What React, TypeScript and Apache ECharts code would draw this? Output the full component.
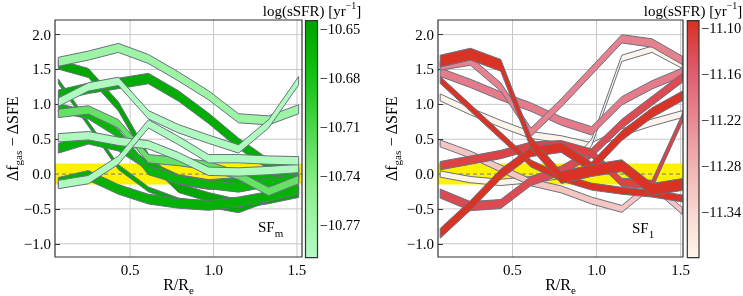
import React, { useEffect, useRef } from "react";
import * as echarts from "echarts";

// radial bins (R/Re)
const X_BINS = [0.07, 0.25, 0.43, 0.61, 0.79, 0.97, 1.15, 1.33, 1.51];

// SF_m panel: band centres, half-widths and log(sSFR)
const SFM_MID: number[][] = [
  [1.57, 1.45, 0.97, 0.22, -0.2, -0.33, -0.43, -0.36, -0.27],
  [1.33, 0.72, 0.1, -0.22, -0.38, -0.44, -0.52, -0.36, -0.2],
  [1.13, 1.23, 1.3, 1.37, 1.12, 0.8, 0.44, 0.14, 0.0],
  [0.37, 0.5, 0.4, 0.12, -0.08, -0.15, -0.12, -0.05, 0.02],
  [-0.12, -0.02, -0.22, -0.36, -0.42, -0.45, -0.4, -0.32, -0.22],
  [0.95, 0.85, 0.58, 0.05, -0.08, -0.15, -0.2, -0.12, -0.06],
  [0.87, 0.92, 0.72, 0.22, 0.18, 0.12, -0.02, -0.25, -0.08],
  [1.61, 1.7, 1.81, 1.65, 1.4, 1.13, 0.8, 0.77, 0.93],
  [1.03, 1.25, 1.33, 0.85, 0.65, 0.5, 0.36, 0.72, 1.34],
  [0.52, 0.55, 0.47, 0.42, 0.25, 0.04, 0.03, 0.05, 0.08],
  [-0.15, -0.08, 0.2, 0.72, 0.48, 0.22, 0.22, 0.2, 0.19],
];
const SFM_HALF = [0.065, 0.035, 0.075, 0.07, 0.07, 0.06, 0.06, 0.065, 0.06, 0.06, 0.06];
const SFM_SSFR = [-10.648, -10.652, -10.655, -10.66, -10.66, -10.665, -10.725, -10.765, -10.785, -10.785, -10.785];

// SF_1 panel
const SF1_MID: number[][] = [
  [1.1, 0.9, 0.72, 0.56, 0.5, 0.4, 0.6, 0.74, 0.86],
  [0.0, -0.08, -0.12, -0.08, -0.02, 0.45, 1.66, 1.79, 1.56],
  [0.44, 0.28, 0.08, -0.12, -0.22, -0.38, -0.5, -0.15, -0.53],
  [1.46, 1.3, 1.12, 0.96, 0.76, 0.62, 1.05, 1.28, 1.46],
  [1.55, 1.62, 1.25, 0.6, 1.02, 1.48, 1.94, 1.88, 1.63],
  [-0.28, -0.46, -0.43, -0.1, 0.05, 0.3, 0.72, 1.05, 1.38],
  [0.12, 0.2, 0.28, 0.4, 0.42, 0.3, -0.12, -0.15, 0.8],
  [1.35, 0.95, 0.55, 0.15, -0.05, -0.18, -0.24, -0.28, -0.35],
  [-0.85, -0.45, 0.0, 0.32, 0.38, 0.1, 0.55, 0.88, 1.12],
  [1.62, 1.72, 1.56, 0.45, -0.05, 0.05, 0.12, -0.22, -0.15],
];
const SF1_HALF = [0.05, 0.045, 0.05, 0.06, 0.06, 0.065, 0.06, 0.05, 0.07, 0.085];
const SF1_SSFR = [-11.395, -11.395, -11.31, -11.2, -11.21, -11.13, -11.12, -11.095, -11.095, -11.095];

const X_TICKS = [0.5, 1.0, 1.5];
const Y_TICKS = [-1.0, -0.5, 0.0, 0.5, 1.0, 1.5, 2.0];
const SFM_CBAR_TICKS = [-10.77, -10.74, -10.71, -10.68, -10.65];
const SF1_CBAR_TICKS = [-11.34, -11.28, -11.22, -11.16, -11.1];
const SFM_CBAR_RANGE = [-10.79, -10.645];
const SF1_CBAR_RANGE = [-11.4, -11.09];
const ZERO_BAND = [-0.15, 0.15];
const LEFT_X_RANGE = [0.05, 1.53];
const RIGHT_X_RANGE = [0.057, 1.514];
const Y_RANGE = [-1.19, 2.21];

const GREEN_STOPS: [number, string][] = [
  [0, "#b4fbc4"], [0.3, "#8cee8c"], [0.5, "#58dc58"], [0.7, "#22c822"], [0.85, "#08b808"], [1, "#00a300"],
];
const RED_STOPS: [number, string][] = [
  [0, "#fff7ec"], [0.2, "#f8d6cf"], [0.45, "#eda6a9"], [0.65, "#e57a87"], [0.82, "#dd5466"], [1, "#d8301f"],
];

const FONT = "'Liberation Serif', 'DejaVu Serif', serif";
const EDGE = "#687080";

function hexToRgb(h: string) {
  const n = parseInt(h.slice(1), 16);
  return [(n >> 16) & 255, (n >> 8) & 255, n & 255];
}
function cmap(stops: [number, string][], t: number) {
  t = Math.max(0, Math.min(1, t));
  for (let i = 1; i < stops.length; i++) {
    if (t <= stops[i][0]) {
      const [t0, c0] = stops[i - 1];
      const [t1, c1] = stops[i];
      const f = (t - t0) / (t1 - t0);
      const a = hexToRgb(c0), b = hexToRgb(c1);
      return `rgb(${a.map((v, k) => Math.round(v + (b[k] - v) * f)).join(",")})`;
    }
  }
  return stops[stops.length - 1][1];
}
const minus = (v: number, d: number) => (v < 0 ? "\u2212" : "") + Math.abs(v).toFixed(d);

function bandSeries(mids: number[][], halfs: number[], ssfr: number[], range: number[], stops: [number, string][], idx: number) {
  return {
    type: "custom", xAxisIndex: idx, yAxisIndex: idx, clip: true, z: 3, silent: true,
    data: mids.map((_, i) => [i]),
    renderItem: (params: any, api: any) => {
      const i = params.dataIndex;
      const m = mids[i], h = halfs[i];
      const up = X_BINS.map((x, k) => api.coord([x, m[k] + h]));
      const lo = X_BINS.map((x, k) => api.coord([x, m[k] - h])).reverse();
      const color = cmap(stops, (ssfr[i] - range[0]) / (range[1] - range[0]));
      return { type: "polygon", shape: { points: up.concat(lo) }, style: { fill: color, stroke: EDGE, lineWidth: 1 } };
    },
  };
}

function decorSeries(idx: number, xr: number[]) {
  return [
    {
      type: "custom", xAxisIndex: idx, yAxisIndex: idx, z: 0, silent: true, data: [[0]],
      renderItem: (_p: any, api: any) => {
        const children: any[] = [];
        X_TICKS.forEach((x) => {
          const a = api.coord([x, Y_RANGE[0]]), b = api.coord([x, Y_RANGE[1]]);
          children.push({ type: "line", shape: { x1: a[0], y1: a[1], x2: b[0], y2: b[1] }, style: { stroke: "#c8c8c8", lineWidth: 1 } });
        });
        Y_TICKS.forEach((y) => {
          const a = api.coord([xr[0], y]), b = api.coord([xr[1], y]);
          children.push({ type: "line", shape: { x1: a[0], y1: a[1], x2: b[0], y2: b[1] }, style: { stroke: "#c8c8c8", lineWidth: 1 } });
        });
        return { type: "group", children };
      },
    },
    {
      type: "custom", xAxisIndex: idx, yAxisIndex: idx, z: 1, silent: true, data: [[0]],
      renderItem: (_p: any, api: any) => {
        const a = api.coord([xr[0], ZERO_BAND[1]]), b = api.coord([xr[1], ZERO_BAND[0]]);
        const c = api.coord([xr[0], 0]), d = api.coord([xr[1], 0]);
        return {
          type: "group",
          children: [
            { type: "rect", shape: { x: a[0], y: a[1], width: b[0] - a[0], height: b[1] - a[1] }, style: { fill: "#fff200" } },
            { type: "line", shape: { x1: c[0], y1: c[1], x2: d[0], y2: d[1] }, style: { stroke: "#4455aa", lineWidth: 0.8, lineDash: [4, 3] } },
          ],
        };
      },
    },
    {
      type: "custom", xAxisIndex: idx, yAxisIndex: idx, z: 10, silent: true, clip: false, data: [[0]],
      renderItem: (_p: any, api: any) => {
        const a = api.coord([xr[0], Y_RANGE[1]]), b = api.coord([xr[1], Y_RANGE[0]]);
        return { type: "rect", shape: { x: a[0], y: a[1], width: b[0] - a[0], height: b[1] - a[1] }, style: { fill: "none", stroke: "#333", lineWidth: 1.2 } };
      },
    },
  ];
}

function cbarSeries(idx: number, range: number[], stops: [number, string][]) {
  return {
    type: "custom", xAxisIndex: idx, yAxisIndex: idx, z: 3, silent: true, clip: false, data: [[0]],
    renderItem: (_p: any, api: any) => {
      const a = api.coord([0, range[1]]), b = api.coord([1, range[0]]);
      return {
        type: "rect",
        shape: { x: a[0], y: a[1], width: b[0] - a[0], height: b[1] - a[1] },
        style: {
          fill: new echarts.graphic.LinearGradient(0, 1, 0, 0, stops.map(([o, c]) => ({ offset: o, color: c }))),
          stroke: "#333", lineWidth: 1.2,
        },
      };
    },
  };
}

const subRich = { sub: { fontSize: 11, fontFamily: FONT, color: "#000", verticalAlign: "bottom", lineHeight: 11 } };

function plotX(idx: number, xr: number[]) {
  return {
    gridIndex: idx, type: "value", min: xr[0], max: xr[1],
    axisLine: { show: false }, splitLine: { show: false },
    axisTick: { inside: true, length: 5, customValues: X_TICKS, lineStyle: { color: "#333" } },
    axisLabel: { customValues: X_TICKS, formatter: (v: number) => v.toFixed(1), color: "#000", fontFamily: FONT, fontSize: 15, margin: 5 },
    name: "R/R{sub|e}", nameLocation: "middle", nameGap: 16, nameMoveOverlap: false,
    nameTextStyle: { fontFamily: FONT, fontSize: 16, color: "#000", lineHeight: 22, rich: subRich },
  };
}
function plotY(idx: number, gap: number) {
  return {
    gridIndex: idx, type: "value", min: Y_RANGE[0], max: Y_RANGE[1],
    axisLine: { show: false }, splitLine: { show: false },
    axisTick: { inside: true, length: 5, customValues: Y_TICKS, lineStyle: { color: "#333" } },
    axisLabel: { customValues: Y_TICKS, formatter: (v: number) => minus(v, 1), color: "#000", fontFamily: FONT, fontSize: 15, margin: 4 },
    name: "\u0394f{sub|gas} \u2212 \u0394SFE", nameLocation: "middle", nameGap: gap, nameMoveOverlap: false,
    nameTextStyle: { fontFamily: FONT, fontSize: 16, color: "#000", lineHeight: 22, rich: subRich },
  };
}
function cbarY(idx: number, range: number[], ticks: number[]) {
  return {
    gridIndex: idx, type: "value", position: "right", min: range[0], max: range[1],
    axisLine: { show: false }, splitLine: { show: false },
    axisTick: { inside: false, length: 3, customValues: ticks, lineStyle: { color: "#333" } },
    axisLabel: { customValues: ticks, formatter: (v: number) => minus(v, 2), color: "#000", fontFamily: FONT, fontSize: 14.5, margin: 2 },
  };
}

function textEl(x: number, y: number, text: string, align: string, rich: any) {
  return {
    type: "text", x, y, silent: true,
    style: { text, fontFamily: FONT, fontSize: 15, fill: "#000", lineHeight: 22, align, verticalAlign: "middle", rich },
  };
}

export default function App() {
  const ref = useRef<HTMLDivElement>(null);
  useEffect(() => {
    if (!ref.current) return;
    const chart = echarts.init(ref.current, undefined, { renderer: "svg" });
    const subG = { sub: { fontSize: 11, fontFamily: FONT, fill: "#000", verticalAlign: "bottom", lineHeight: 11 } };
    const supG = { sup: { fontSize: 10, fontFamily: FONT, fill: "#000", verticalAlign: "top", lineHeight: 10 } };
    const g = (left: number, top: number, width: number, height: number) => ({
      left, top, width, height, containLabel: false, outerBoundsMode: "none",
    });
    chart.setOption({
      animation: false,
      textStyle: { fontFamily: FONT },
      grid: [g(55, 20, 247, 237), g(438, 20, 245, 237), g(305.5, 20.7, 12, 237), g(687.3, 20.7, 11.7, 237)],
      xAxis: [
        plotX(0, LEFT_X_RANGE),
        plotX(1, RIGHT_X_RANGE),
        { gridIndex: 2, type: "value", min: 0, max: 1, show: false },
        { gridIndex: 3, type: "value", min: 0, max: 1, show: false },
      ],
      yAxis: [
        plotY(0, 32),
        plotY(1, 36),
        cbarY(2, SFM_CBAR_RANGE, SFM_CBAR_TICKS),
        cbarY(3, SF1_CBAR_RANGE, SF1_CBAR_TICKS),
      ],
      series: [
        ...decorSeries(0, LEFT_X_RANGE),
        bandSeries(SFM_MID, SFM_HALF, SFM_SSFR, SFM_CBAR_RANGE, GREEN_STOPS, 0),
        ...decorSeries(1, RIGHT_X_RANGE),
        bandSeries(SF1_MID, SF1_HALF, SF1_SSFR, SF1_CBAR_RANGE, RED_STOPS, 1),
        cbarSeries(2, SFM_CBAR_RANGE, GREEN_STOPS),
        cbarSeries(3, SF1_CBAR_RANGE, RED_STOPS),
      ],
      graphic: [
        textEl(258, 227, "SF{sub|m}", "left", subG),
        textEl(632, 228, "SF{sub|1}", "left", subG),
        textEl(312, 11, "log(sSFR) [yr{sup|\u22121}]", "center", supG),
        textEl(693, 11, "log(sSFR) [yr{sup|\u22121}]", "center", supG),
      ],
    });
    return () => chart.dispose();
  }, []);
  return <div ref={ref} style={{ position: "fixed", left: 0, top: 0, width: 743, height: 296 }} />;
}
